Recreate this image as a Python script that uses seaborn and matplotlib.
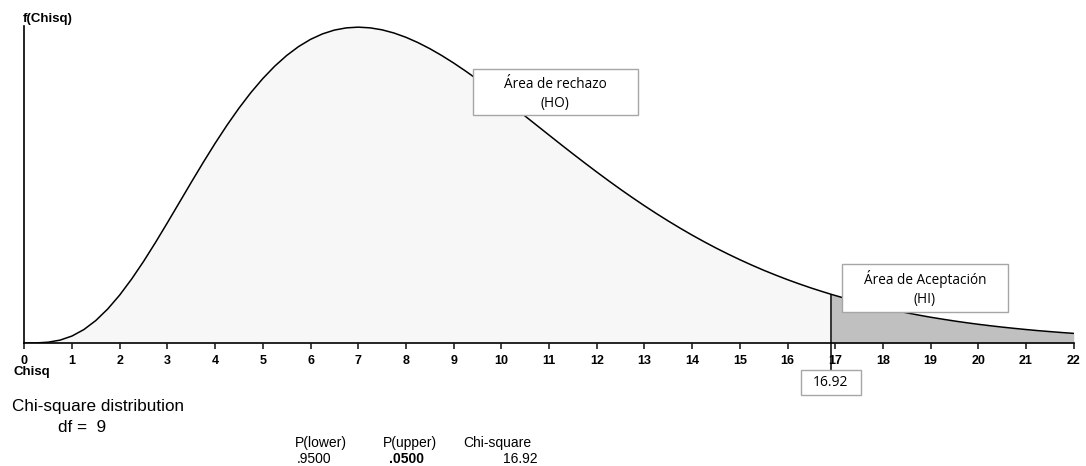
import numpy as np
import pandas as pd
import matplotlib
matplotlib.use('Agg')
import matplotlib.pyplot as plt
import seaborn as sns
from matplotlib.patches import Rectangle

# Werte der Dichtekurve (Chi-Quadrat, df = 9)
chisq_x = [0, 0.25, 0.5, 0.75, 1, 1.25, 1.5, 1.75, 2, 2.25, 2.5, 2.75, 3, 3.25,
           3.5, 3.75, 4, 4.25, 4.5, 4.75, 5, 5.25, 5.5, 5.75, 6, 6.25, 6.5, 6.75,
           7, 7.25, 7.5, 7.75, 8, 8.25, 8.5, 8.75, 9, 9.25, 9.5, 9.75, 10, 10.25,
           10.5, 10.75, 11, 11.25, 11.5, 11.75, 12, 12.25, 12.5, 12.75, 13, 13.25,
           13.5, 13.75, 14, 14.25, 14.5, 14.75, 15, 15.25, 15.5, 15.75, 16, 16.25,
           16.5, 16.75, 16.92, 17, 17.25, 17.5, 17.75, 18, 18.25, 18.5, 18.75, 19,
           19.25, 19.5, 19.75, 20, 20.25, 20.5, 20.75, 21, 21.25, 21.5, 21.75, 22]
density = [0.0, 0.00003, 0.00026, 0.00095, 0.00230, 0.00444, 0.00742, 0.01123,
           0.01581, 0.02108, 0.02689, 0.03313, 0.03965, 0.04630, 0.05296, 0.05950,
           0.06582, 0.07181, 0.07741, 0.08255, 0.08717, 0.09126, 0.09477, 0.09772,
           0.10009, 0.10189, 0.10315, 0.10388, 0.10412, 0.10389, 0.10324, 0.10219,
           0.10078, 0.09905, 0.09704, 0.09478, 0.09231, 0.08966, 0.08687, 0.08396,
           0.08096, 0.07789, 0.07479, 0.07167, 0.06855, 0.06544, 0.06237, 0.05935,
           0.05638, 0.05348, 0.05065, 0.04791, 0.04525, 0.04269, 0.04022, 0.03785,
           0.03557, 0.03340, 0.03132, 0.02935, 0.02747, 0.02569, 0.02399, 0.02240,
           0.02088, 0.01946, 0.01811, 0.01685, 0.01603, 0.01566, 0.01454, 0.01350,
           0.01252, 0.01160, 0.01075, 0.00995, 0.00920, 0.00850, 0.00786, 0.00725,
           0.00669, 0.00617, 0.00569, 0.00524, 0.00483, 0.00444, 0.00408, 0.00376,
           0.00345, 0.00317]
tick_values = list(range(0, 23))
tick_labels = [str(t) for t in tick_values]

critical_value = 16.92
critical_density = 0.01603
df_value = 9
p_lower = '.9500'
p_upper = '.0500'

df = pd.DataFrame({'chisq': chisq_x, 'density': density})

sns.set_style('white')
plt.rcParams['font.family'] = ['Liberation Sans', 'DejaVu Sans']
plt.rcParams['text.color'] = 'black'

W, H = 1086, 466


def fx(px):
    return px / W


def fy(py):
    return 1 - py / H


fig = plt.figure(figsize=(W / 100, H / 100), dpi=100)
ax = fig.add_axes([fx(24.3), fy(343), (1073.7 - 24.3) / W, (343 - 26) / H])

# Flächen: links hell, rechts vom kritischen Wert dunkler
left = df[df['chisq'] <= critical_value]
right = df[df['chisq'] >= critical_value]
ax.fill_between(left['chisq'], 0, left['density'], color='#f7f7f7', lw=0)
ax.fill_between(right['chisq'], 0, right['density'], color='#c0c0c0', lw=0)

sns.lineplot(data=df, x='chisq', y='density', color='black', linewidth=1.1,
             estimator=None, sort=False, ax=ax)

# Linie beim kritischen Wert
ax.vlines(critical_value, 0, critical_density, color='black', lw=1.1)
ax.plot([critical_value, critical_value], [0, -0.085], color='black', lw=1.1,
        transform=ax.get_xaxis_transform(), clip_on=False)

ax.set_xlim(0, 22)
ax.set_ylim(0, 0.1045)
ax.set_xticks(tick_values)
ax.set_xticklabels(tick_labels, fontweight='bold', fontsize=9)
ax.set_yticks([])
ax.tick_params(axis='x', direction='out', length=4.5, width=1.3, pad=4.5,
               color='#333333', labelcolor='black', bottom=True)
ax.set_xlabel('')
ax.set_ylabel('')
for side in ['top', 'right']:
    ax.spines[side].set_visible(False)
for side in ['left', 'bottom']:
    ax.spines[side].set_color('black')
    ax.spines[side].set_linewidth(1.2)

# Achsenbeschriftungen
fig.text(fx(23), fy(19), 'f(Chisq)', fontsize=9.5, fontweight='bold', va='center', ha='left')
fig.text(fx(13), fy(366), 'Chisq', fontsize=9.5, fontweight='bold', va='top', ha='left')


# Textkästen
def box(x0, y0, x1, y1, lines, fontsize, ys):
    fig.add_artist(Rectangle((fx(x0), fy(y1)), (x1 - x0) / W, (y1 - y0) / H,
                             transform=fig.transFigure, facecolor='white',
                             edgecolor='#a6a6a6', lw=1, zorder=5))
    for txt, yy in zip(lines, ys):
        fig.text(fx((x0 + x1) / 2), fy(yy), txt, fontsize=fontsize, ha='center',
                 va='center', family=['Open Sans', 'DejaVu Sans'], zorder=6)


box(473, 69, 637.7, 115, ['Área de rechazo', '(HO)'], 9.8, [85, 103])
box(842, 264, 1007.6, 312, ['Área de Aceptación', '(HI)'], 9.8, [279, 299])
box(801, 370, 860.7, 395, [f'{critical_value:.2f}'], 10, [383])

# Untere Beschriftungen
fig.text(fx(12), fy(407), 'Chi-square distribution', fontsize=12.3, va='center', ha='left')
fig.text(fx(58), fy(427), f'df =  {df_value}', fontsize=12.3, va='center', ha='left')

fig.text(fx(295), fy(443), 'P(lower)', fontsize=10, va='center', ha='left')
fig.text(fx(383), fy(443), 'P(upper)', fontsize=10, va='center', ha='left')
fig.text(fx(463), fy(443), 'Chi-square', fontsize=10, va='center', ha='left')
fig.text(fx(297), fy(459), p_lower, fontsize=10, va='center', ha='left')
fig.text(fx(389), fy(459), p_upper, fontsize=10, fontweight='bold', va='center', ha='left')
fig.text(fx(538), fy(459), f'{critical_value:.2f}', fontsize=10, va='center', ha='right')

plt.savefig('out.png', dpi=100)
plt.close()
